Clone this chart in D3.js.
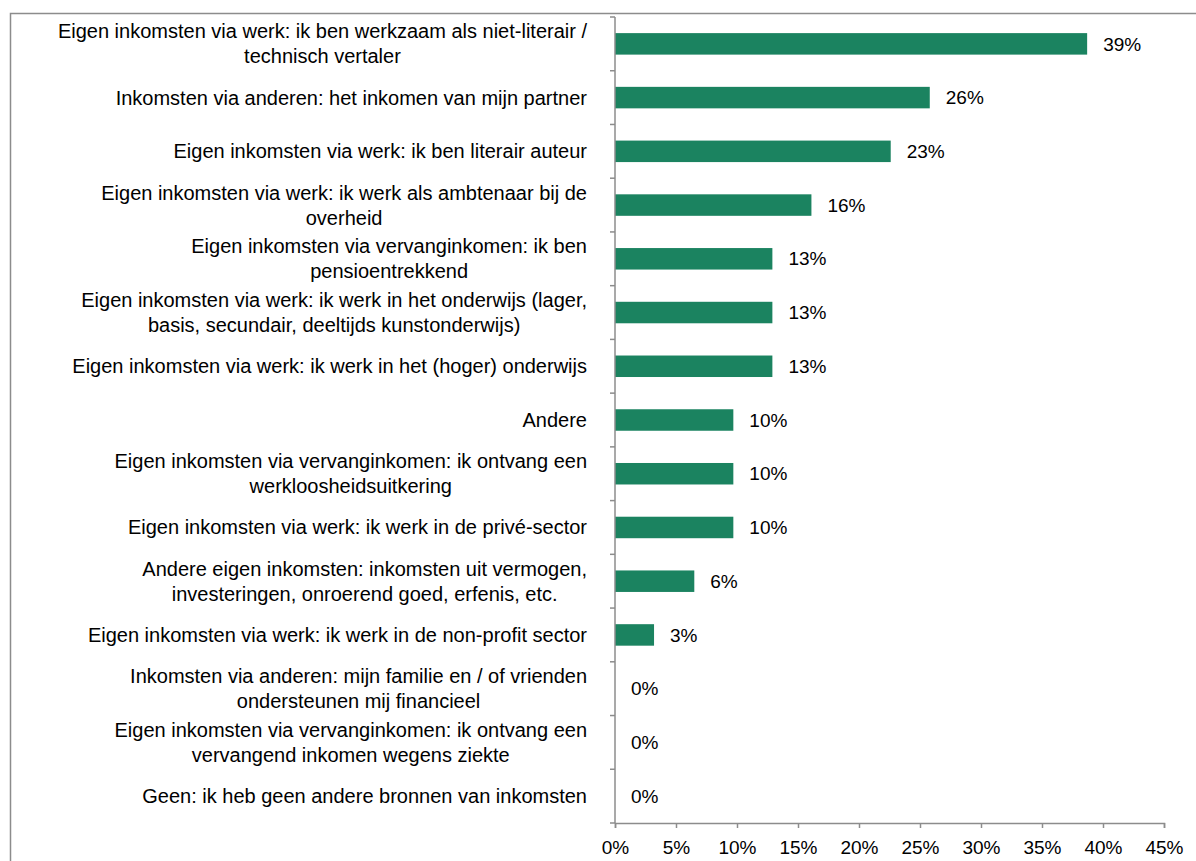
<!DOCTYPE html>
<html>
<head>
<meta charset="utf-8">
<script src="https://cdn.jsdelivr.net/npm/d3@7"></script>
<style>
  body { margin: 0; background: #fff; }
  text { font-family: "Liberation Sans", Arial, sans-serif; fill: #000; }
</style>
</head>
<body>
<div id="chartDiv"></div>
<script>

// categories, top to bottom (line breaks as in the original chart)
var categories = [
  "Eigen inkomsten via werk: ik ben werkzaam als niet-literair /\ntechnisch vertaler",
  "Inkomsten via anderen: het inkomen van mijn partner",
  "Eigen inkomsten via werk: ik ben literair auteur",
  "Eigen inkomsten via werk: ik werk als ambtenaar bij de\noverheid",
  "Eigen inkomsten via vervanginkomen: ik ben\npensioentrekkend",
  "Eigen inkomsten via werk: ik werk in het onderwijs (lager,\nbasis, secundair, deeltijds kunstonderwijs)",
  "Eigen inkomsten via werk: ik werk in het (hoger) onderwijs",
  "Andere",
  "Eigen inkomsten via vervanginkomen: ik ontvang een\nwerkloosheidsuitkering",
  "Eigen inkomsten via werk: ik werk in de privé-sector",
  "Andere eigen inkomsten: inkomsten uit vermogen,\ninvesteringen, onroerend goed, erfenis, etc.",
  "Eigen inkomsten via werk: ik werk in de non-profit sector",
  "Inkomsten via anderen: mijn familie en / of vrienden\nondersteunen mij financieel",
  "Eigen inkomsten via vervanginkomen: ik ontvang een\nvervangend inkomen wegens ziekte",
  "Geen: ik heb geen andere bronnen van inkomsten"
];

// exact shares (bar lengths) and the printed labels
var values = [38.7, 25.8, 22.6, 16.1, 12.9, 12.9, 12.9, 9.7, 9.7, 9.7, 6.5, 3.2, 0, 0, 0];
var valueLabels = ["39%", "26%", "23%", "16%", "13%", "13%", "13%", "10%", "10%", "10%", "6%", "3%", "0%", "0%", "0%"];

var xTicks = [0, 5, 10, 15, 20, 25, 30, 35, 40, 45];

function drawChart() {
  var width = 1196;
  var height = 861;
  var labelSize = 20;
  var numSize = 19;

  var svg = d3.select('#chartDiv').append('svg')
    .attr('width', width).attr('height', height);

  // chart frame
  svg.append('rect')
    .attr('x', 10.5).attr('y', 13.5)
    .attr('width', width + 20).attr('height', height + 20)
    .attr('fill', 'none').attr('stroke', '#8c8c8c').attr('stroke-width', 1.5);

  var x = d3.scaleLinear().domain([0, 45]).range([615, 1164]);
  var y = d3.scaleBand().domain(d3.range(categories.length)).range([17, 823]).paddingInner(0.6).paddingOuter(0.3);
  var yEdges = d3.scaleLinear().domain([0, categories.length]).range([17, 823]);

  // bars
  svg.selectAll('rect.bar')
    .data(values)
    .enter().append('rect')
    .attr('class', 'bar')
    .attr('x', x(0))
    .attr('y', function(d, i) { return y(i); })
    .attr('width', function(d) { return x(d) - x(0); })
    .attr('height', y.bandwidth())
    .attr('fill', '#1b8360');

  // data labels
  svg.selectAll('text.val')
    .data(valueLabels)
    .enter().append('text')
    .attr('class', 'val')
    .attr('x', function(d, i) { return x(values[i]) + 16; })
    .attr('y', function(d, i) { return y(i) + y.bandwidth() / 2; })
    .attr('dy', '0.35em')
    .style('font-size', numSize + 'px')
    .text(function(d) { return d; });

  // y axis line + ticks between categories
  var axisColor = '#8c8c8c';
  svg.append('line')
    .attr('x1', x(0)).attr('x2', x(0))
    .attr('y1', yEdges(0)).attr('y2', yEdges(categories.length))
    .attr('stroke', axisColor).attr('stroke-width', 1.5);
  svg.selectAll('line.ytick')
    .data(d3.range(categories.length + 1))
    .enter().append('line')
    .attr('class', 'ytick')
    .attr('x1', x(0) - 5).attr('x2', x(0))
    .attr('y1', function(d) { return yEdges(d); })
    .attr('y2', function(d) { return yEdges(d); })
    .attr('stroke', axisColor).attr('stroke-width', 1.5);

  // x axis
  var xAxis = d3.axisBottom(x)
    .tickValues(xTicks)
    .tickSize(5)
    .tickPadding(13)
    .tickFormat(function(d) { return d + '%'; });
  var gx = svg.append('g')
    .attr('transform', 'translate(0,' + yEdges(categories.length) + ')')
    .call(xAxis);
  gx.select('.domain').attr('stroke', axisColor).attr('stroke-width', 1.5);
  gx.selectAll('.tick line').attr('stroke', axisColor).attr('stroke-width', 1.5);
  gx.selectAll('.tick text')
    .style('font-size', numSize + 'px')
    .style('font-family', '"Liberation Sans", Arial, sans-serif')
    .attr('fill', '#000');

  // category labels: block right-aligned, lines centered within the block
  var labelRight = 587;
  var lineGap = 25;
  categories.forEach(function(cat, i) {
    var lines = cat.split('\n');
    var cy = y(i) + y.bandwidth() / 2;
    var t = svg.append('text')
      .attr('text-anchor', 'middle')
      .style('font-size', labelSize + 'px');
    var spans = t.selectAll('tspan')
      .data(lines)
      .enter().append('tspan')
      .attr('y', function(d, j) { return cy + (j - (lines.length - 1) / 2) * lineGap; })
      .attr('dy', '0.35em')
      .text(function(d) { return d; });
    var maxW = 0;
    spans.each(function() { maxW = Math.max(maxW, this.getComputedTextLength()); });
    spans.attr('x', labelRight - maxW / 2);
  });
}

drawChart();
</script>
</body>
</html>
